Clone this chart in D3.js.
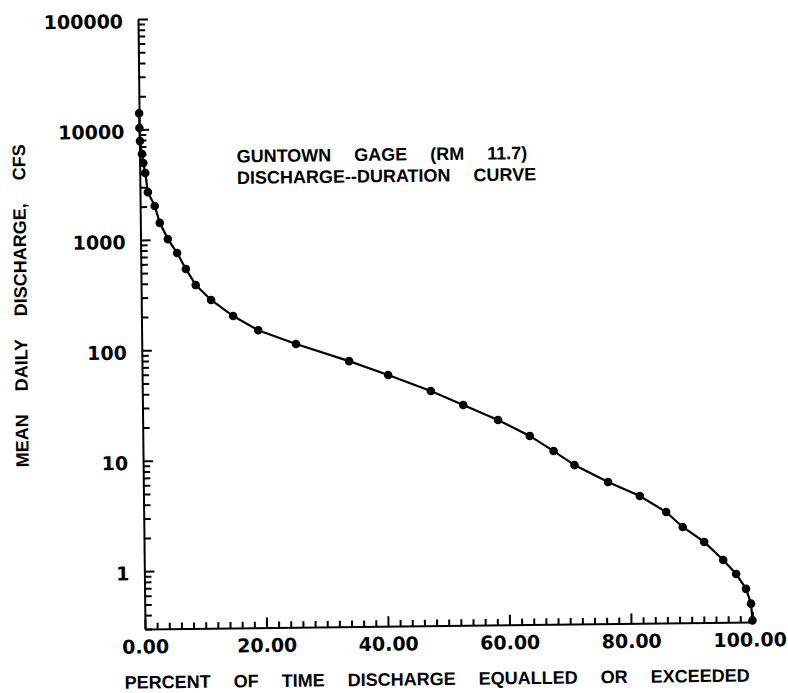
<!DOCTYPE html>
<html>
<head>
<meta charset="utf-8">
<script src="https://cdn.jsdelivr.net/npm/d3@7"></script>
<style>
  html, body { margin: 0; padding: 0; background: #fff; }
  svg { display: block; }
  .tick text { font-family: "DejaVu Sans", sans-serif; font-weight: bold; font-size: 19px; fill: #000; }
  .lbl { font-family: "Liberation Sans", Arial, sans-serif; font-weight: bold; font-size: 18px; word-spacing: 18px; fill: #000; }
</style>
</head>
<body>
<svg id="chart" width="788" height="693"></svg>
<script>
// Discharge-duration curve, Guntown gage (RM 11.7)
const pctExceeded = [0.01, 0.03, 0.1, 0.4, 0.6, 0.9, 1.3, 2.4, 3.2, 4.5, 6.0, 7.4, 9.0, 11.5, 15.1, 19.2,
                     25.4, 34.1, 40.5, 47.5, 52.8, 58.5, 63.7, 67.6, 71.0, 76.5, 81.7, 86.0, 88.7, 92.2,
                     95.3, 97.4, 99.0, 99.8, 100];
const dischargeCfs = [14000, 10300, 7850, 6000, 4960, 4030, 2700, 2020, 1420, 1010, 754, 540, 385, 281, 200, 148,
                      110, 76, 56.4, 40, 29.6, 21.5, 15.3, 11.1, 8.24, 5.74, 4.26, 3.03, 2.21, 1.61,
                      1.10, 0.82, 0.60, 0.44, 0.31];

const xTickValues = [0, 20, 40, 60, 80, 100];
const xTickLabels = ["0.00", "20.00", "40.00", "60.00", "80.00", "100.00"];
const yTickValues = [1, 10, 100, 1000, 10000, 100000];
const yTickLabels = ["1", "10", "100", "1000", "10000", "100000"];

const titleLines = ["GUNTOWN GAGE (RM 11.7)", "DISCHARGE--DURATION CURVE"];
const xTitle = "PERCENT OF TIME DISCHARGE EQUALLED OR EXCEEDED";
const yTitle = "MEAN DAILY DISCHARGE, CFS";

const plotLeft = 141.5, plotRight = 749, plotTop = 15.5, plotBottom = 625.5;

const x = d3.scaleLinear().domain([0, 100]).range([plotLeft, plotRight]);
const y = d3.scaleLog().domain([0.3, 100000]).range([plotBottom, plotTop]);

const svg = d3.select("#chart");
// the sheet sits slightly askew on the page
const g = svg.append("g").attr("transform", "rotate(-0.66 445 322)");

// y axis: minor ticks on every 1..9 multiple, labelled decades
const yMinor = y.ticks().filter(v => !yTickValues.includes(v));
g.append("g")
  .attr("transform", `translate(${plotLeft},0)`)
  .call(d3.axisLeft(y).tickValues(yMinor).tickFormat("").tickSizeInner(-7).tickSizeOuter(0))
  .call(a => a.selectAll("line, path").attr("stroke", "#000").attr("stroke-width", 2));
g.append("g")
  .attr("transform", `translate(${plotLeft},0)`)
  .call(d3.axisLeft(y).tickValues(yTickValues)
    .tickFormat((d, i) => yTickLabels[i]).tickSizeInner(-10).tickSizeOuter(0).tickPadding(15))
  .call(a => a.select(".domain").remove())
  .call(a => a.selectAll("line").attr("stroke", "#000").attr("stroke-width", 2))
  .call(a => a.selectAll("text").attr("dy", "0.45em"));

// x axis: ticks every 2 percent, longer and labelled every 20
const xMinor = d3.range(2, 100, 2).filter(v => v % 20 !== 0);
g.append("g")
  .attr("transform", `translate(0,${plotBottom})`)
  .call(d3.axisBottom(x).tickValues(xMinor).tickFormat("").tickSizeInner(-6).tickSizeOuter(0))
  .call(a => a.selectAll("line, path").attr("stroke", "#000").attr("stroke-width", 2));
g.append("g")
  .attr("transform", `translate(0,${plotBottom})`)
  .call(d3.axisBottom(x).tickValues(xTickValues)
    .tickFormat((d, i) => xTickLabels[i]).tickSizeInner(-10).tickSizeOuter(0).tickPadding(11))
  .call(a => a.select(".domain").remove())
  .call(a => a.selectAll("line").attr("stroke", "#000").attr("stroke-width", 2))
  // keep the last label clear of the right edge
  .call(a => a.selectAll("text").filter(d => d === 100).attr("dx", "-3"));

// curve and plotted points
const pts = pctExceeded.map((p, i) => [p, dischargeCfs[i]]);
g.append("path")
  .datum(pts)
  .attr("fill", "none")
  .attr("stroke", "#000")
  .attr("stroke-width", 2.2)
  .attr("d", d3.line().x(d => x(d[0])).y(d => y(d[1])));
g.append("g").selectAll("circle")
  .data(pts)
  .join("circle")
  .attr("cx", d => x(d[0]))
  .attr("cy", d => y(d[1]))
  .attr("r", 4.3)
  .attr("fill", "#000");

// titles
g.append("text").attr("class", "lbl")
  .attr("x", 238.5).attr("y", 160).text(titleLines[0]);
g.append("text").attr("class", "lbl")
  .attr("x", 238.5).attr("y", 181.5).text(titleLines[1]);

g.append("text").attr("class", "lbl")
  .attr("text-anchor", "middle")
  .attr("transform", "translate(27,301) rotate(-90)")
  .text(yTitle);

g.append("text").attr("class", "lbl")
  .attr("text-anchor", "middle")
  .attr("x", 433).attr("y", 685)
  .text(xTitle);
</script>
</body>
</html>
